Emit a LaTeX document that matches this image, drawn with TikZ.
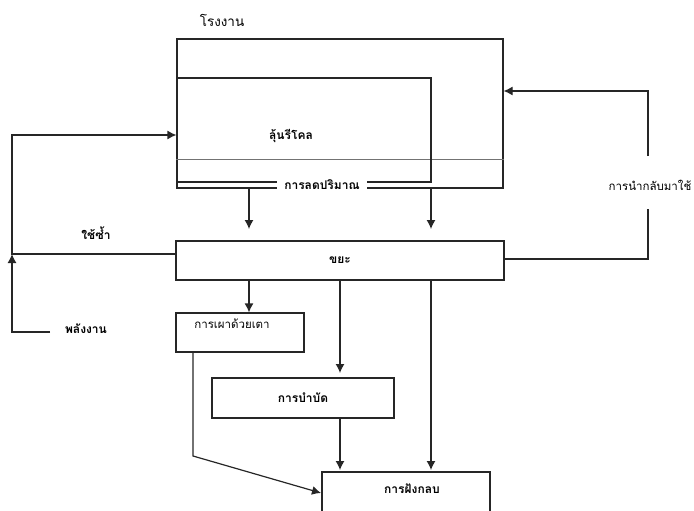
\documentclass[tikz,border=0pt]{standalone}
\usepackage{fontspec}
\newfontfamily\thai[Script=Thai]{Loma}
\usetikzlibrary{arrows.meta}
\begin{document}
\begin{tikzpicture}[x=1pt,y=-1pt,
  ln/.style={draw=black!85, line width=1.2pt},
  arr/.style={ln, -{Latex[length=9pt,width=9pt]}},
  box/.style={ln, rectangle, inner sep=0pt, font=\thai\fontsize{12}{14}\selectfont\bfseries},
  lbl/.style={inner sep=1pt, font=\thai\fontsize{11.5}{13}\selectfont},
  blbl/.style={lbl, font=\thai\fontsize{12}{14}\selectfont\bfseries}]
\useasboundingbox (0,0) rectangle (694,511);
% factory
\node[lbl, font=\thai\fontsize{13.5}{15}\selectfont] (factory) at (222,20) {โรงงาน};
\node[box, minimum width=326pt, minimum height=149pt] (outer) at (340,113.5) {};
\draw[draw=black!55, line width=0.7pt] (outer.west |- 0,159) -- (outer.east |- 0,159);
\draw[ln] (177,182) -- (431,182) -- (431,78) -- (177,78);
\node[blbl] (recyc) at (291,136) {ลุ้นรีโคล};
\node[blbl, fill=white, inner xsep=7pt, inner ysep=2pt] (reduce) at (322,185) {การลดปริมาณ};
% waste
\node[box, minimum width=328pt, minimum height=39pt] (waste) at (340,260.5) {ขยะ};
\coordinate (xa) at (249,229);
\coordinate (xb) at (431,229);
\draw[arr] (outer.south -| xa) -- (xa);
\draw[arr] (outer.south -| xb) -- (xb);
% incinerator
\node[box, minimum width=128pt, minimum height=39pt] (incin) at (240,332.5) {};
\node[lbl] (incint) at (232,324) {การเผาด้วยเตา};
\draw[arr] (waste.south -| xa) -- (incin.north -| xa);
% treatment
\node[box, minimum width=182pt, minimum height=40pt] (treat) at (303,398) {การบำบัด};
\coordinate (tc) at (340,373);
\draw[arr] (waste.south -| tc) -- (tc);
% landfill
\node[box, minimum width=168pt, minimum height=48pt] (land) at (406,496) {};
\node[blbl] (landt) at (412,489) {การฝังกลบ};
\coordinate (lc1) at (340,470);
\coordinate (lc2) at (431,470);
\draw[arr] (treat.south -| lc1) -- (lc1);
\draw[arr] (waste.south -| lc2) -- (lc2);
\coordinate (dk) at (193,456);
\coordinate (dt) at (321,493);
\draw[arr] (incin.south -| dk) -- (dk) -- (dt);
% left loop
\coordinate (lx) at (12,254);
\coordinate (ltop) at (12,135);
\node[blbl] (reuse) at (96,233) {ใช้ซ้ำ};
\node[blbl] (energy) at (86,329) {พลังงาน};
\coordinate (ee) at (50,332);
\coordinate (eb) at (12,332);
\draw[arr] (ee) -- (eb) -- (lx);
\draw[arr] (waste.west |- lx) -- (lx) -- (ltop) -- (outer.west |- ltop);
% right loop
\node[lbl] (recov) at (650,185) {การนำกลับมาใช้};
\coordinate (r1) at (648,209);
\coordinate (r2) at (648,156);
\coordinate (rt) at (648,91);
\draw[ln] (waste.east |- 0,259) -- (648,259) -- (r1);
\draw[arr] (r2) -- (rt) -- (outer.east |- rt);
\end{tikzpicture}
\end{document}
